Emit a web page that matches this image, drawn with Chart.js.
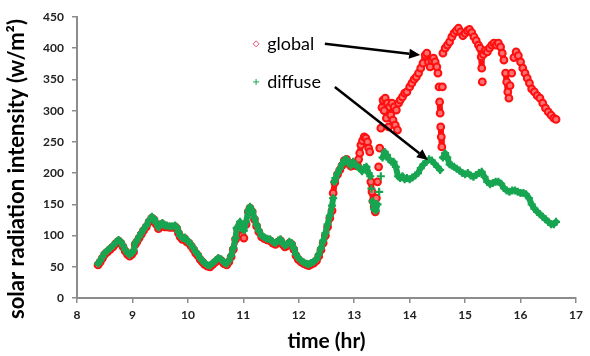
<!DOCTYPE html>
<html>
<head>
<meta charset="utf-8">
<script src="https://cdn.jsdelivr.net/npm/chart.js@4.4.1/dist/chart.umd.min.js"></script>
<style>
  html, body { margin: 0; padding: 0; background: #fff; }
  #chart { display: block; }
</style>
</head>
<body>
<canvas id="chart" width="590" height="356"></canvas>
<script>
// Solar radiation, global vs diffuse

const diffuseTime = [
    8.38, 8.42, 8.46, 8.50, 8.55, 8.60, 8.65, 8.70, 8.75, 8.79, 8.83, 8.87, 8.91, 8.95, 8.99, 9.02,
    9.05, 9.08, 9.12, 9.16, 9.20, 9.25, 9.30, 9.35, 9.39, 9.43, 9.47, 9.50, 9.54, 9.58, 9.62, 9.67,
    9.72, 9.77, 9.80, 9.83, 9.86, 9.90, 9.94, 9.98, 10.02, 10.06, 10.10, 10.14, 10.18, 10.22, 10.26, 10.30,
    10.35, 10.40, 10.45, 10.50, 10.55, 10.60, 10.65, 10.70, 10.74, 10.78, 10.82, 10.86, 10.88, 10.90, 10.94, 10.98,
    11.01, 11.05, 11.09, 11.12, 11.16, 11.20, 11.24, 11.28, 11.33, 11.38, 11.43, 11.48, 11.53, 11.58, 11.63, 11.67,
    11.71, 11.75, 11.79, 11.83, 11.87, 11.91, 11.95, 11.99, 12.04, 12.09, 12.14, 12.18, 12.22, 12.27, 12.32, 12.36,
    12.40, 12.44, 12.48, 12.52, 12.56, 12.60, 12.62, 12.64, 12.66, 12.70, 12.74, 12.78, 12.82, 12.86, 12.90, 12.94,
    12.98, 13.02, 13.06, 13.10, 13.14, 13.18, 13.22, 13.26, 13.29, 13.31, 13.33, 13.36, 13.39, 13.42, 13.45, 13.48,
    13.51, 13.55, 13.59, 13.63, 13.67, 13.71, 13.75, 13.79, 13.83, 13.87, 13.91, 13.95, 14.00, 14.05, 14.10, 14.15,
    14.20, 14.25, 14.30, 14.35, 14.40, 14.45, 14.50, 14.55, 14.60, 14.64, 14.68, 14.72, 14.76, 14.80, 14.85, 14.90,
    14.95, 15.00, 15.05, 15.10, 15.15, 15.20, 15.25, 15.30, 15.35, 15.40, 15.45, 15.50, 15.55, 15.60, 15.65, 15.70,
    15.75, 15.80, 15.85, 15.90, 15.95, 16.00, 16.05, 16.10, 16.15, 16.20, 16.25, 16.30, 16.35, 16.40, 16.45, 16.50,
    16.55, 16.60, 16.64
];
const diffuseValue = [
    55, 60, 66, 72, 76, 80, 84, 89, 93, 90, 84, 77, 72, 69, 72, 76,
    88, 92, 98, 104, 110, 116, 124, 130, 127, 120, 113, 118, 120, 116, 116, 115,
    115, 116, 113, 106, 100, 96, 97, 92, 90, 85, 80, 74, 70, 64, 60, 56,
    53, 52, 56, 60, 64, 62, 57, 55, 60, 68, 80, 96, 112, 114, 122, 112,
    108, 122, 140, 146, 140, 128, 117, 108, 100, 97, 95, 94, 90, 88, 92, 94,
    88, 84, 86, 90, 88, 80, 70, 64, 60, 57, 55, 54, 56, 58, 62, 70,
    80, 92, 104, 118, 132, 148, 160, 186, 192, 200, 207, 214, 221, 222, 216, 212,
    218, 214, 210, 208, 203, 208, 210, 200, 195, 175, 155, 142, 140, 150, 170, 195,
    225, 234, 229, 222, 218, 218, 210, 195, 192, 195, 190, 192, 190, 193, 196, 200,
    208, 214, 218, 222, 220, 215, 210, 205, 225, 232, 225, 214, 212, 210, 207, 204,
    200, 198, 200, 196, 194, 197, 200, 202, 194, 186, 182, 184, 186, 186, 183, 176,
    172, 170, 172, 172, 170, 168, 168, 166, 160, 150, 143, 138, 134, 130, 126, 122,
    118, 118, 122
];

const globalTime = [
    8.38, 8.42, 8.46, 8.50, 8.55, 8.60, 8.65, 8.70, 8.75, 8.79, 8.83, 8.87, 8.91, 8.95, 8.99, 9.02,
    9.05, 9.08, 9.12, 9.16, 9.20, 9.25, 9.30, 9.35, 9.39, 9.43, 9.47, 9.50, 9.54, 9.58, 9.62, 9.67,
    9.72, 9.77, 9.80, 9.83, 9.86, 9.90, 9.94, 9.98, 10.02, 10.06, 10.10, 10.14, 10.18, 10.22, 10.26, 10.30,
    10.35, 10.40, 10.45, 10.50, 10.55, 10.60, 10.65, 10.70, 10.74, 10.78, 10.82, 10.86, 10.90, 10.94, 10.98, 11.01,
    11.05, 11.09, 11.12, 11.16, 11.20, 11.24, 11.28, 11.33, 11.38, 11.43, 11.48, 11.53, 11.58, 11.63, 11.67, 11.71,
    11.75, 11.79, 11.83, 11.87, 11.91, 11.95, 11.99, 12.04, 12.09, 12.14, 12.18, 12.22, 12.27, 12.32, 12.36, 12.40,
    12.44, 12.48, 12.52, 12.56, 12.60, 12.62, 12.65, 12.70, 12.74, 12.78, 12.82, 12.86, 12.90, 12.94, 12.98, 13.02,
    13.06, 13.08, 13.10, 13.12, 13.15, 13.18, 13.21, 13.24, 13.26, 13.28, 13.30, 13.32, 13.34, 13.36, 13.38, 13.40,
    13.42, 13.44, 13.46, 13.48, 13.50, 13.52, 13.54, 13.56, 13.58, 13.60, 13.62, 13.64, 13.66, 13.68, 13.70, 13.72,
    13.74, 13.76, 13.78, 13.80, 13.83, 13.87, 13.91, 13.95, 14.00, 14.04, 14.08, 14.12, 14.16, 14.20, 14.24, 14.28,
    14.31, 14.34, 14.37, 14.40, 14.43, 14.46, 14.49, 14.51, 14.53, 14.54, 14.55, 14.56, 14.57, 14.58, 14.59, 14.60,
    14.64, 14.68, 14.72, 14.76, 14.80, 14.84, 14.88, 14.92, 14.96, 15.00, 15.04, 15.08, 15.12, 15.16, 15.20, 15.24,
    15.27, 15.29, 15.30, 15.31, 15.33, 15.36, 15.40, 15.44, 15.48, 15.52, 15.56, 15.60, 15.64, 15.67, 15.70, 15.73,
    15.75, 15.77, 15.79, 15.81, 15.84, 15.88, 15.92, 15.96, 16.00, 16.04, 16.08, 16.12, 16.16, 16.20, 16.25, 16.30,
    16.35, 16.40, 16.45, 16.50, 16.55, 16.60, 16.64
];
const globalValue = [
    53, 58, 64, 70, 74, 78, 82, 87, 91, 88, 82, 75, 70, 67, 70, 74,
    86, 90, 96, 102, 108, 114, 122, 128, 125, 118, 111, 116, 118, 114, 114, 113,
    113, 114, 111, 104, 98, 94, 95, 90, 88, 83, 78, 72, 68, 62, 58, 54,
    51, 50, 54, 58, 62, 60, 55, 53, 58, 66, 78, 94, 110, 118, 100, 96,
    118, 138, 144, 138, 126, 115, 106, 98, 95, 93, 92, 88, 86, 90, 92, 86,
    82, 84, 88, 86, 78, 68, 62, 58, 55, 53, 52, 54, 56, 60, 67, 77,
    88, 100, 114, 128, 140, 168, 185, 198, 205, 212, 220, 222, 215, 211, 216, 212,
    212, 222, 232, 245, 252, 258, 256, 250, 240, 234, 186, 170, 155, 146, 138, 160,
    186, 210, 240, 272, 305, 317, 300, 320, 288, 312, 274, 306, 293, 312, 285, 306,
    277, 301, 269, 312, 317, 322, 328, 330, 338, 344, 350, 354, 360, 368, 376, 389,
    392, 378, 370, 380, 384, 378, 370, 360, 338, 314, 296, 274, 258, 242, 338, 392,
    400, 405, 410, 418, 424, 428, 432, 426, 420, 424, 428, 430, 425, 418, 412, 405,
    400, 386, 368, 346, 390, 396, 394, 400, 405, 408, 405, 408, 402, 392, 381, 360,
    346, 330, 320, 340, 360, 385, 394, 388, 378, 368, 360, 352, 344, 335, 330, 324,
    320, 312, 304, 298, 293, 288, 286
];

const xTicks = [8, 9, 10, 11, 12, 13, 14, 15, 16, 17];
const yTicks = [0, 50, 100, 150, 200, 250, 300, 350, 400, 450];

const seriesNames = ['global', 'diffuse'];
const xTitle = 'time (hr)';
const yTitle = 'solar radiation intensity (w/m\u00B2)';

// annotation anchors, in data units
const legendAnchors = [[11.43, 407], [11.43, 346]];
const markerX = 11.23;
const arrowLines = [
    { from: [12.47, 407], to: [14.19, 389] },
    { from: [12.65, 338], to: [14.33, 221] }
];

const RED = '#ff1010';
const GREEN = '#17a552';
const AXIS = '#8c8c8c';

function toPoints(xs, ys) {
    return xs.map((x, i) => ({ x: x, y: ys[i] }));
}

// hide the connecting line where the samples jump apart, so they read as loose dots
function jumpColor(color) {
    return ctx => {
        const dx = ctx.p1.x - ctx.p0.x;
        const dy = ctx.p1.y - ctx.p0.y;
        return Math.sqrt(dx * dx + dy * dy) > 12 ? 'transparent' : color;
    };
}

function drawArrow(ctx, x0, y0, x1, y1) {
    const ang = Math.atan2(y1 - y0, x1 - x0);
    const head = 11;
    const bx = x1 - head * Math.cos(ang);
    const by = y1 - head * Math.sin(ang);
    ctx.strokeStyle = '#000';
    ctx.fillStyle = '#000';
    ctx.lineWidth = 2.5;
    ctx.beginPath();
    ctx.moveTo(x0, y0);
    ctx.lineTo(bx, by);
    ctx.stroke();
    ctx.beginPath();
    ctx.moveTo(x1, y1);
    ctx.lineTo(bx + 5 * Math.sin(ang), by - 5 * Math.cos(ang));
    ctx.lineTo(bx - 5 * Math.sin(ang), by + 5 * Math.cos(ang));
    ctx.closePath();
    ctx.fill();
}

const annotations = {
    id: 'annotations',
    afterDraw(chart) {
        const { ctx } = chart;
        const x = chart.scales.x;
        const y = chart.scales.y;
        ctx.save();

        arrowLines.forEach(a => {
            drawArrow(ctx,
                x.getPixelForValue(a.from[0]), y.getPixelForValue(a.from[1]),
                x.getPixelForValue(a.to[0]), y.getPixelForValue(a.to[1]));
        });

        // hand-placed legend inside the plot
        const mx = x.getPixelForValue(markerX);
        const gy = y.getPixelForValue(legendAnchors[0][1]);
        const dy = y.getPixelForValue(legendAnchors[1][1]);
        ctx.lineWidth = 1;
        ctx.strokeStyle = '#e05070';
        ctx.beginPath();
        ctx.moveTo(mx, gy - 3); ctx.lineTo(mx + 3, gy); ctx.lineTo(mx, gy + 3); ctx.lineTo(mx - 3, gy);
        ctx.closePath();
        ctx.stroke();
        ctx.strokeStyle = GREEN;
        ctx.beginPath();
        ctx.moveTo(mx - 3, dy); ctx.lineTo(mx + 3, dy);
        ctx.moveTo(mx, dy - 3); ctx.lineTo(mx, dy + 3);
        ctx.stroke();

        ctx.fillStyle = '#000';
        ctx.font = '18px Lato';
        ctx.textAlign = 'left';
        ctx.textBaseline = 'middle';
        legendAnchors.forEach((p, i) => {
            ctx.fillText(seriesNames[i], x.getPixelForValue(p[0]), y.getPixelForValue(p[1]));
        });

        // axis titles
        ctx.font = 'bold 21px Lato';
        ctx.textAlign = 'center';
        ctx.fillText(xTitle, (x.left + x.right) / 2, 341);
        ctx.font = 'bold 22px Lato';
        ctx.translate(17, 169);
        ctx.rotate(-Math.PI / 2);
        ctx.fillText(yTitle, 0, 0);
        ctx.restore();
    }
};

const tickFont = { family: 'Lato', size: 12, weight: 'bold' };

new Chart(document.getElementById('chart'), {
    type: 'scatter',
    data: {
        datasets: [{
            label: seriesNames[1],
            data: toPoints(diffuseTime, diffuseValue),
            order: 1,
            showLine: true,
            borderColor: GREEN,
            borderWidth: 6,
            borderJoinStyle: 'round',
            borderCapStyle: 'round',
            segment: { borderColor: jumpColor(GREEN) },
            pointStyle: 'cross',
            pointRadius: 4,
            pointBorderWidth: 2.2,
            pointBorderColor: GREEN,
            pointBackgroundColor: GREEN
        }, {
            label: seriesNames[0],
            data: toPoints(globalTime, globalValue),
            order: 2,
            showLine: true,
            borderColor: RED,
            borderWidth: 6,
            borderJoinStyle: 'round',
            borderCapStyle: 'round',
            segment: { borderColor: jumpColor(RED) },
            pointStyle: 'circle',
            pointRadius: 3.4,
            pointBorderWidth: 2,
            pointBorderColor: RED,
            pointBackgroundColor: '#ff7070'
        }]
    },
    options: {
        responsive: false,
        animation: false,
        events: [],
        layout: { padding: { top: 17, right: 14, left: 0, bottom: 0 } },
        plugins: {
            legend: { display: false },
            tooltip: { enabled: false }
        },
        scales: {
            x: {
                type: 'linear',
                min: 8,
                max: 17,
                afterBuildTicks: scale => { scale.ticks = xTicks.map(v => ({ value: v })); },
                afterFit: scale => { scale.height = 58; },
                border: { color: AXIS, width: 2 },
                grid: { drawOnChartArea: false, color: AXIS, tickLength: 5, lineWidth: 1.5 },
                ticks: { color: '#222', font: tickFont, padding: 5 }
            },
            y: {
                min: 0,
                max: 450,
                afterBuildTicks: scale => { scale.ticks = yTicks.map(v => ({ value: v })); },
                afterFit: scale => { scale.width = 77; },
                border: { color: AXIS, width: 2 },
                grid: { drawOnChartArea: false, color: AXIS, tickLength: 5, lineWidth: 1.5 },
                ticks: { color: '#222', font: tickFont, padding: 8 }
            }
        }
    },
    plugins: [annotations]
});
</script>
</body>
</html>
